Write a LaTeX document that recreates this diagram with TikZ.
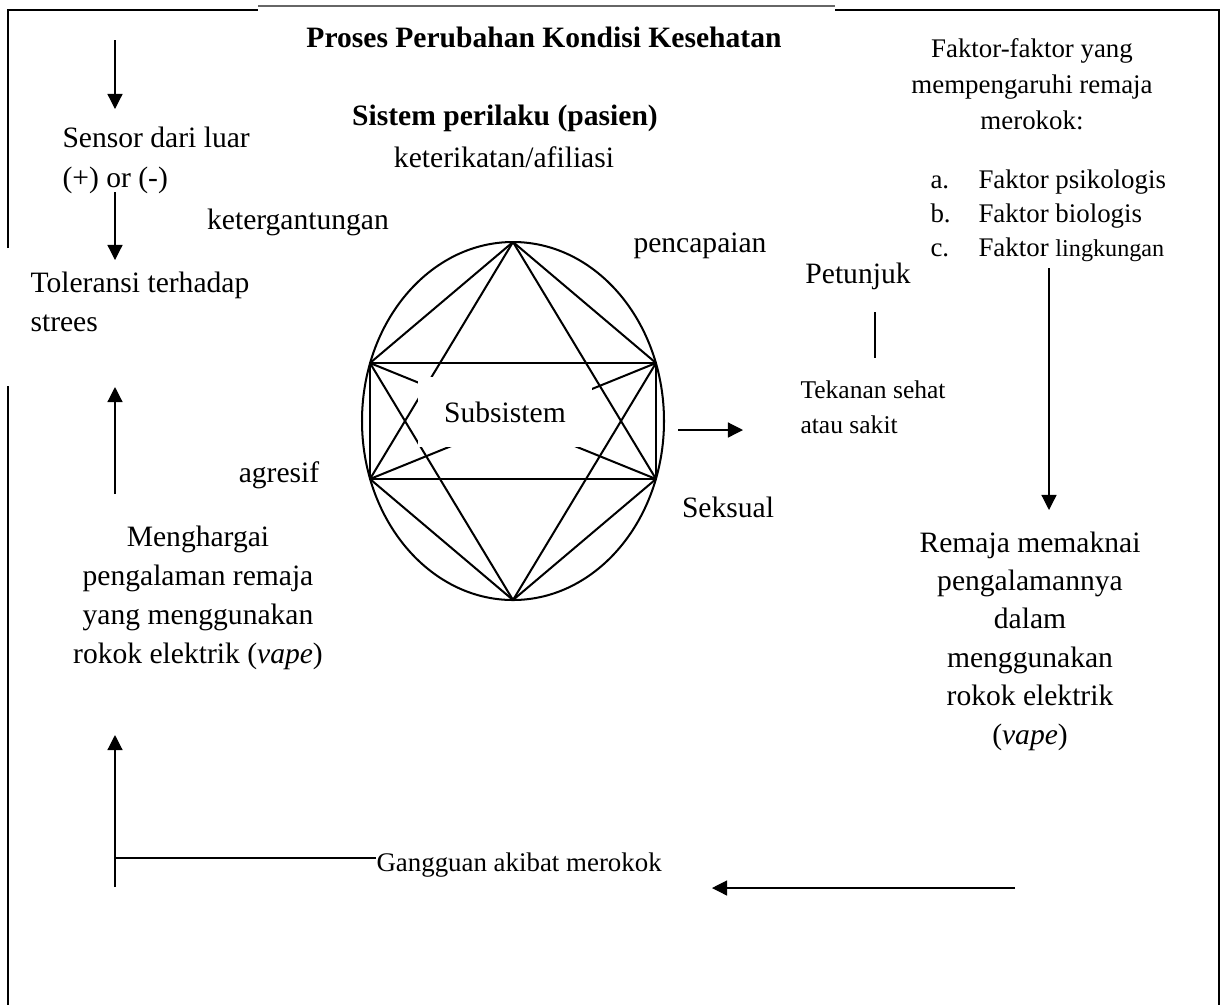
\documentclass[tikz,border=0pt]{standalone}
\usepackage{fontspec}
\setmainfont{Liberation Serif}
\usetikzlibrary{arrows.meta}

\begin{document}
\begin{tikzpicture}[x=0.372pt, y=-0.372pt,
    txt/.style={inner sep=0pt, font=\fontsize{11}{14.5}\selectfont},
    smalltxt/.style={inner sep=0pt, font=\fontsize{10}{13.4}\selectfont},
    frame/.style={line width=1.1pt},
    star/.style={line width=0.75pt},
    link/.style={line width=0.45pt},
    flow/.style={link, -{Triangle[length=5.6pt, width=5.6pt]}}]
    \useasboundingbox (0,0) rectangle (1224,1005);

    % outer frame, open on the left
    \draw[frame] (8,248) -- (8,10) -- (258,10);
    \draw[line width=0.4pt, black!60] (258,6) -- (835,6);
    \draw[frame] (835,10) -- (1219,10) -- (1219,1005);
    \draw[frame] (8,386) -- (8,1005);

    % headings
    \node[txt] (title)    at (544,37)  {\bfseries Proses Perubahan Kondisi Kesehatan};
    \node[txt] (sistem)   at (505,118) {\bfseries Sistem perilaku (pasien)};
    \node[txt] (afiliasi) at (504,157) {keterikatan/afiliasi};

    % subsystem star
    \coordinate (O)   at (513,421);
    \coordinate (top) at (513,242);
    \coordinate (bot) at (513,600);
    \coordinate (A) at (370,363);
    \coordinate (B) at (656,363);
    \coordinate (C) at (656,479);
    \coordinate (D) at (370,479);
    \draw[star] (O) ellipse [x radius=151, y radius=179];
    \draw[star] (A) rectangle (C);
    \foreach \p in {A,B,C,D}
        \draw[star] (top) -- (\p) (bot) -- (\p);
    \draw[star] (A) -- (C) (B) -- (D);
    \node[txt, fill=white, minimum width=64.7pt, minimum height=26pt] (sub) at (505,412) {Subsistem};

    \node[txt] (gantung) at (298,222) {ketergantungan};
    \node[txt] (capai)   at (700,246) {pencapaian};
    \node[txt] (agresif) at (279,475) {agresif};
    \node[txt] (seksual) at (728,507) {Seksual};

    % left column
    \node[txt, anchor=west, align=left, font=\fontsize{11}{14.8}\selectfont] (sensor) at (62,160) {Sensor dari luar\\(+) or (-)};
    \node[txt, anchor=west, align=left] (toleransi) at (30,302) {Toleransi terhadap\\strees};
    \node[txt, align=center] (hargai) at (198,598) {Menghargai\\pengalaman remaja\\yang menggunakan\\rokok elektrik (\textit{vape})};

    \coordinate (in1) at (115,40);
    \coordinate (in2) at (115,109);
    \coordinate (in3) at (115,192);
    \coordinate (in4) at (115,260);
    \coordinate (up1) at (115,494);
    \coordinate (up2) at (115,387);
    \coordinate (up3) at (115,887);
    \coordinate (up4) at (115,735);
    \coordinate (g0)  at (115,858);
    \draw[flow] (in1) -- (in2);
    \draw[flow] (in3) -- (in4);
    \draw[flow] (up1) -- (up2);
    \draw[flow] (up3) -- (up4);

    \node[smalltxt, anchor=west] (gangguan) at (376,865) {Gangguan akibat merokok};
    \draw[link] (g0) -- (g0 -| gangguan.west);

    % right column
    \node[smalltxt, align=center] (faktor) at (1032,84) {Faktor-faktor yang\\mempengaruhi remaja\\merokok:};
    \foreach \m/\t [count=\i] in {a./Faktor psikologis, b./Faktor biologis, c./Faktor {\fontsize{9}{11}\selectfont lingkungan}} {
        \node[smalltxt, anchor=base west] (lbl\i) at (930,154+34*\i) {\m};
        \node[smalltxt, anchor=base west] (fak\i) at (978,154+34*\i) {\t};
    }
    \node[txt] (petunjuk) at (858,276) {Petunjuk};
    \node[inner sep=0pt, font=\fontsize{9.5}{13}\selectfont, anchor=west, align=left] (tekanan) at (800,407) {Tekanan sehat\\atau sakit};
    \node[txt, align=center, font=\fontsize{11}{14.3}\selectfont] (remaja) at (1030,641) {Remaja memaknai\\pengalamannya\\dalam\\menggunakan\\rokok elektrik\\(\textit{vape})};

    \coordinate (p1) at (875,312);
    \coordinate (p2) at (875,358);
    \coordinate (m1) at (678,430);
    \coordinate (m2) at (743,430);
    \coordinate (r1) at (1049,268);
    \coordinate (r2) at (1049,510);
    \coordinate (b1) at (1015,888);
    \coordinate (b2) at (712,888);
    \draw[link] (p1) -- (p2);
    \draw[flow] (m1) -- (m2);
    \draw[flow] (r1) -- (r2);
    \draw[flow] (b1) -- (b2);
\end{tikzpicture}
\end{document}
